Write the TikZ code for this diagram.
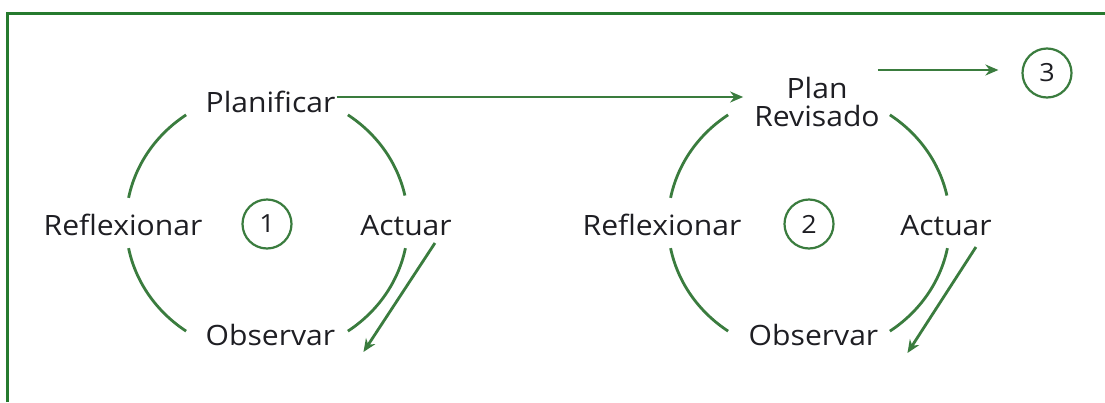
\documentclass[tikz,border=0pt]{standalone}
\usepackage{fontspec}
\setmainfont{Open Sans}[FakeStretch=1.075]
\usetikzlibrary{arrows.meta}
\definecolor{lg}{RGB}{58,124,62}
\definecolor{bd}{RGB}{38,122,46}
\definecolor{tx}{RGB}{30,30,35}
\begin{document}
\begin{tikzpicture}[x=1pt,y=-1pt,
  lbl/.style={anchor=base,inner sep=0pt,text=tx,font=\fontsize{28}{28}\selectfont},
  num/.style={circle,draw=lg,line width=2.2pt,minimum size=49pt,inner sep=0pt,text=tx,font=\fontsize{25}{25}\selectfont},
  arcline/.style={draw=lg,line width=2.8pt},
  arr/.style={draw=lg,line width=2.8pt,-{Stealth[length=13pt,width=11pt]}},
  frame/.style={draw=bd,line width=3pt}]
\useasboundingbox[fill=white] (0,0) rectangle (1105,402);
% frame
\coordinate (fl) at (7,402);
\coordinate (fc) at (7,13);
\coordinate (fr) at (1105,13);
\draw[frame] (fl) -- (fc) -- (fr);
% cycle 1
\coordinate (c1) at (267,223);
\node[lbl] (p1) at (270.5,112) {Planificar};
\node[lbl] (r1) at (123,235) {Reflexionar};
\node[lbl] (a1) at (406,235) {Actuar};
\node[lbl] (o1) at (270.5,345) {Observar};
\node[num] (n1) at (267,224) {1};
\draw[arcline] ([shift={(-125:141 and 132)}]c1) arc[start angle=-125,end angle=-169,x radius=141,y radius=132];
\draw[arcline] ([shift={(-55:141 and 132)}]c1) arc[start angle=-55,end angle=-12,x radius=141,y radius=132];
\draw[arcline] ([shift={(-191:141 and 132)}]c1) arc[start angle=-191,end angle=-235,x radius=141,y radius=132];
\draw[arcline] ([shift={(11:141 and 132)}]c1) arc[start angle=11,end angle=55,x radius=141,y radius=132];
\draw[arr] ([shift={(-17,8)}]a1.base east) -- ([shift={(28,7)}]o1.base east);
% cycle 2
\coordinate (c2) at (809,223);
\node[lbl,anchor=center,align=center] (p2) at (817,102) {Plan\\Revisado};
\node[lbl] (r2) at (662,235) {Reflexionar};
\node[lbl] (a2) at (946,235) {Actuar};
\node[lbl] (o2) at (813.5,345) {Observar};
\node[num] (n2) at (809,224) {2};
\draw[arcline] ([shift={(-125:141 and 132)}]c2) arc[start angle=-125,end angle=-169,x radius=141,y radius=132];
\draw[arcline] ([shift={(-55:141 and 132)}]c2) arc[start angle=-55,end angle=-12,x radius=141,y radius=132];
\draw[arcline] ([shift={(-191:141 and 132)}]c2) arc[start angle=-191,end angle=-235,x radius=141,y radius=132];
\draw[arcline] ([shift={(11:141 and 132)}]c2) arc[start angle=11,end angle=55,x radius=141,y radius=132];
\draw[arr] ([shift={(-16,12)}]a2.base east) -- ([shift={(29,8)}]o2.base east);
% cycle 3
\node[num] (n3) at (1047,73) {3};
% connectors
\draw[arr] ([xshift=1]p1.east |- 0,97) -- ([xshift=-11]p2.west |- 0,97);
\draw[arr] ([xshift=-2]p2.east |- 0,70) -- ([xshift=-23]n3.west |- 0,70);
\end{tikzpicture}
\end{document}
